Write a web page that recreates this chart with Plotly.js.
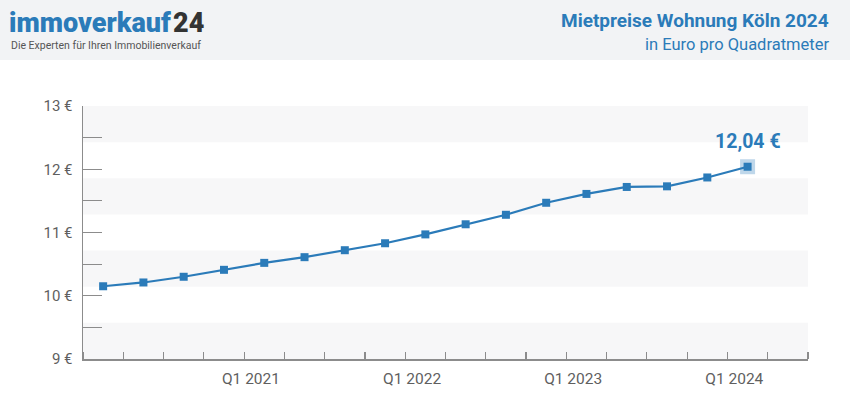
<!DOCTYPE html>
<html>
<head>
<meta charset="utf-8">
<script src="https://cdn.plot.ly/plotly-3.0.1.min.js"></script>
<style>
html,body{margin:0;padding:0;background:#fff;}
#chart{width:850px;height:417px;}
</style>
</head>
<body>
<div id="chart"></div>
<script>
// Quarterly data (Q1 2020 ... Q1 2024)
var quarters = ["Q1 2020","Q2 2020","Q3 2020","Q4 2020","Q1 2021","Q2 2021","Q3 2021","Q4 2021",
                "Q1 2022","Q2 2022","Q3 2022","Q4 2022","Q1 2023","Q2 2023","Q3 2023","Q4 2023","Q1 2024"];
var prices = [10.15,10.21,10.30,10.41,10.52,10.61,10.72,10.83,10.97,11.13,11.28,11.47,11.61,11.72,11.73,11.87,12.04];
var tickLabels = ["Q1 2021","Q1 2022","Q1 2023","Q1 2024"];
var yTicks = [9,10,11,12,13];
var yTickText = ["9 €","10 €","11 €","12 €","13 €"];
var lastLabel = "12,04 €";

var blue = "#2b7bb9";
var axisGrey = "#8c8c8c";
var xIdx = quarters.map(function(q,i){return i;});
var tickPos = tickLabels.map(function(t){return quarters.indexOf(t) - 0.33;});
var last = prices.length - 1;

var traces = [
  {x:[xIdx[last]], y:[prices[last]], mode:"markers", type:"scatter",
   marker:{symbol:"square", size:15, color:"rgba(43,123,185,0.3)"}, hoverinfo:"skip", showlegend:false},
  {x:xIdx, y:prices, mode:"lines+markers", type:"scatter",
   line:{color:blue, width:2.2}, marker:{symbol:"square", size:8, color:blue}, showlegend:false}
];

var shapes = [
  {type:"rect", xref:"paper", yref:"paper", x0:-1, x1:2, y0:1.1816, y1:2, fillcolor:"#f2f3f5", line:{width:0}, layer:"below"}
];
var nb = 7;
for (var i=0;i<nb;i+=2){
  shapes.push({type:"rect", xref:"paper", yref:"paper", x0:0, x1:1,
    y0:1 - (i+1)/nb, y1:1 - i/nb, fillcolor:"#f7f7f8", line:{width:0}, layer:"below"});
}

var ptPerPx = 1/725;
function px(p){ return (p-83)*ptPerPx; }
var layout = {
  width:850, height:417,
  margin:{l:83, r:42, t:106, b:58},
  paper_bgcolor:"#ffffff", plot_bgcolor:"rgba(0,0,0,0)",
  font:{family:"Roboto, 'Open Sans', sans-serif", color:"#5f5f5f", size:13},
  xaxis:{type:"linear", range:[-0.5, 17.5], showgrid:false, zeroline:false,
    showline:true, linecolor:axisGrey, linewidth:1.5,
    tickmode:"array", tickvals:tickPos, ticktext:tickLabels, ticks:"",
    tickfont:{size:15.5, color:"#5f5f5f"}, ticklabelstandoff:5,
    minor:{ticks:"inside", ticklen:7, tickwidth:1.2, tickcolor:axisGrey, tick0:-0.5, dtick:1, showgrid:false},
    fixedrange:true},
  yaxis:{range:[9,13], showgrid:false, zeroline:false,
    showline:true, linecolor:axisGrey, linewidth:1.5,
    tickmode:"array", tickvals:yTicks, ticktext:yTickText,
    ticks:"inside", ticklen:19, tickwidth:1.2, tickcolor:axisGrey,
    tickfont:{size:15, color:"#5f5f5f"}, ticklabelstandoff:6,
    minor:{ticks:"inside", ticklen:19, tickwidth:1.2, tickcolor:axisGrey, tick0:9, dtick:0.5, showgrid:false},
    fixedrange:true},
  shapes:shapes,
  annotations:[
    {xref:"paper", yref:"paper", x:px(172), y:1 + (106-23)/253.3, xanchor:"right", yanchor:"middle", showarrow:false, borderpad:0,
     text:'immoverkauf', font:{family:"Roboto, sans-serif", size:27, weight:900, color:blue}},
    {xref:"paper", yref:"paper", x:px(172), y:1 + (106-23)/253.3, xanchor:"left", yanchor:"middle", showarrow:false, borderpad:0,
     text:'24', font:{family:"Roboto, sans-serif", size:27, weight:900, color:"#333333"}},
    {xref:"paper", yref:"paper", x:px(10), y:1 + (106-45)/253.3, xanchor:"left", yanchor:"middle", showarrow:false, borderpad:0,
     text:"Die Experten für Ihren Immobilienverkauf", font:{family:"Roboto, sans-serif", size:10.5, color:"#555555"}},
    {xref:"paper", yref:"paper", x:1 + 23*ptPerPx, y:1 + (106-20)/253.3, xanchor:"right", yanchor:"middle", showarrow:false,
     text:"<b>Mietpreise Wohnung Köln 2024</b>", font:{family:"Roboto, sans-serif", size:19, color:blue}},
    {xref:"paper", yref:"paper", x:1 + 23*ptPerPx, y:1 + (106-44)/253.3, xanchor:"right", yanchor:"middle", showarrow:false,
     text:"in Euro pro Quadratmeter", font:{family:"Roboto, sans-serif", size:16.5, color:blue}},
    {x:xIdx[last], y:prices[last], xref:"x", yref:"y", showarrow:false, yshift:25, yanchor:"middle",
     text:"<b>"+lastLabel+"</b>", font:{family:"Roboto, sans-serif", size:19.5, color:blue}}
  ]
};

Plotly.newPlot("chart", traces, layout, {displayModeBar:false, staticPlot:true});
</script>
</body>
</html>
